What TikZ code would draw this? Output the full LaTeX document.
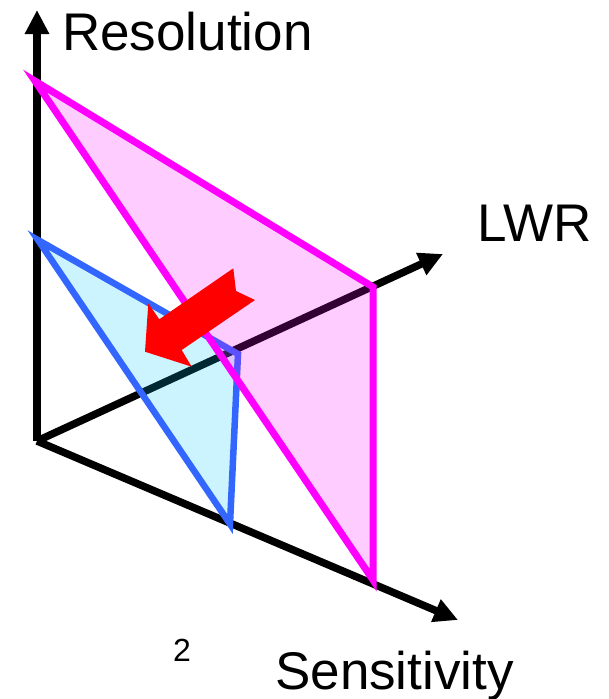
\documentclass[tikz,border=0pt]{standalone}
\usepackage{fontspec}
\setmainfont{Liberation Sans}
\usetikzlibrary{arrows.meta}
\definecolor{lineblue}{RGB}{51,102,255}
\definecolor{fillcyan}{RGB}{0,200,255}
\definecolor{pinkline}{RGB}{255,0,255}
\tikzset{
  axis/.style={line width=7.5pt,-{Triangle[length=24pt,width=23pt]}},
  label/.style={anchor=base west,inner sep=0pt,font=\fontsize{53}{60}\selectfont},
}
\begin{document}
\begin{tikzpicture}[x=1pt,y=-1pt]
\useasboundingbox (0,0) rectangle (608,699);
\coordinate (O) at (37,441);
\coordinate (res) at (37,10);
\coordinate (lwr) at (443,254);
\coordinate (sens) at (458,620);
\draw[axis] (O)--(res);
\draw[axis] (O)--(lwr);
\draw[axis] (O)--(sens);
\coordinate (b1) at (38,240);
\coordinate (b2) at (238,354);
\coordinate (b3) at (230,524);
\filldraw[draw=lineblue,fill=fillcyan,fill opacity=0.2,line width=6.5pt] (b1)--(b2)--(b3)--cycle;
\coordinate (m1) at (35,81);
\coordinate (m2) at (373,287);
\coordinate (m3) at (373,580);
\filldraw[draw=pinkline,fill=pinkline,fill opacity=0.2,line width=7pt] (m1)--(m2)--(m3)--cycle;
\fill[red] (145,351.7)--(148.3,303.3)--(159.3,319.3)--(233.3,268.3)--(236,291)--(255,300)--(181.7,350)--(191.7,366.7)--cycle;
\node[label] (resl) at (62,50) {Resolution};
\node[label] (lwrl) at (477.5,241) {LWR};
\node[label] (sensl) at (275,689) {Sensitivity};
\node[label,font=\fontsize{32}{38}\selectfont] (two) at (173,661.7) {2};
\end{tikzpicture}
\end{document}
